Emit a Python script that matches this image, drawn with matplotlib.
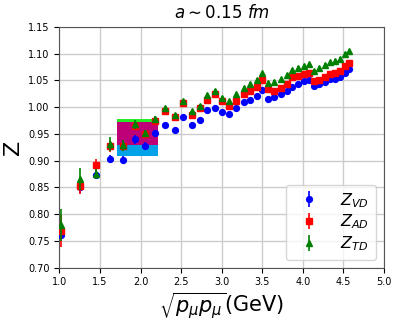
import matplotlib.pyplot as plt

# momentum values sqrt(p_mu p_mu) in GeV
p = [1.02, 1.25, 1.45, 1.62, 1.78, 1.93, 2.06, 2.18, 2.30, 2.42, 2.52, 2.63, 2.73,
     2.82, 2.92, 3.01, 3.09, 3.18, 3.27, 3.35, 3.43, 3.50, 3.57, 3.64, 3.73, 3.80,
     3.87, 3.94, 4.01, 4.08, 4.14, 4.20, 4.27, 4.33, 4.40, 4.46, 4.52, 4.57]

z_vd = [0.762, 0.851, 0.874, 0.903, 0.901, 0.940, 0.928, 0.951, 0.966, 0.958, 0.982,
        0.966, 0.976, 0.994, 0.999, 0.991, 0.987, 0.998, 1.010, 1.014, 1.021, 1.032,
        1.016, 1.018, 1.024, 1.031, 1.038, 1.043, 1.048, 1.050, 1.040, 1.043, 1.047,
        1.052, 1.053, 1.057, 1.064, 1.071]
z_ad = [0.769, 0.853, 0.892, 0.927, 0.927, 0.965, 0.950, 0.974, 0.993, 0.982, 1.008,
        0.986, 0.998, 1.013, 1.024, 1.012, 1.002, 1.012, 1.024, 1.030, 1.038, 1.050,
        1.034, 1.030, 1.035, 1.043, 1.056, 1.058, 1.061, 1.063, 1.049, 1.051, 1.056,
        1.061, 1.064, 1.068, 1.077, 1.082]
z_td = [0.780, 0.866, 0.875, 0.931, 0.929, 0.968, 0.951, 0.978, 0.999, 0.986, 1.011,
        0.992, 1.003, 1.023, 1.030, 1.017, 1.011, 1.024, 1.036, 1.043, 1.051, 1.063,
        1.045, 1.047, 1.052, 1.060, 1.069, 1.074, 1.077, 1.080, 1.068, 1.073, 1.079,
        1.084, 1.087, 1.090, 1.100, 1.104]

err_vd = [0.012, 0.012, 0.008, 0.008, 0.007, 0.008, 0.007, 0.006] + [0.003] * 30
err_ad = [0.030, 0.015, 0.012, 0.010, 0.008, 0.007, 0.006, 0.005] + [0.003] * 30
err_td = [0.030, 0.020, 0.010, 0.013, 0.010, 0.008, 0.007, 0.006] + [0.003] * 30

# fit window bands
band_x = [1.71, 2.22]
band_edges = [0.909, 0.930, 0.972, 0.977]
band_colors = ['#00a2e8', '#be0078', '#22ee22']

fig = plt.figure(figsize=(3.99, 3.23), dpi=100)
ax = fig.add_axes([0.149, 0.171, 0.813, 0.746])

for i in range(3):
    ax.fill_between(band_x, band_edges[i], band_edges[i + 1], color=band_colors[i],
                    linewidth=0, zorder=1)

ax.errorbar(p, z_vd, yerr=err_vd, fmt='o', color='blue', ms=4.2, elinewidth=1.2,
            label='$Z_{VD}$', zorder=3)
ax.errorbar(p, z_ad, yerr=err_ad, fmt='s', color='red', ms=4.2, elinewidth=1.2,
            label='$Z_{AD}$', zorder=4)
ax.errorbar(p, z_td, yerr=err_td, fmt='^', color='green', ms=4.2, elinewidth=1.2,
            label='$Z_{TD}$', zorder=5)

ax.set_xlim(1.0, 5.0)
ax.set_ylim(0.70, 1.15)
ax.set_xticks([1.0, 1.5, 2.0, 2.5, 3.0, 3.5, 4.0, 4.5, 5.0])
ax.set_yticks([0.70, 0.75, 0.80, 0.85, 0.90, 0.95, 1.00, 1.05, 1.10, 1.15])
ax.tick_params(labelsize=7)
ax.grid(True, color='#cccccc', linewidth=1)
ax.set_axisbelow(True)
for s in ax.spines.values():
    s.set_color('#555555')

ax.set_title(r'$a \sim 0.15\ fm$', fontsize=12)
ax.set_xlabel(r'$\sqrt{p_\mu p_\mu}$(GeV)', fontsize=15, labelpad=2)
ax.set_ylabel('Z', fontsize=16)
ax.legend(loc='lower right', fontsize=11.5, labelspacing=0.2, handletextpad=1.0,
          borderaxespad=0.5)

plt.savefig('out.png')
